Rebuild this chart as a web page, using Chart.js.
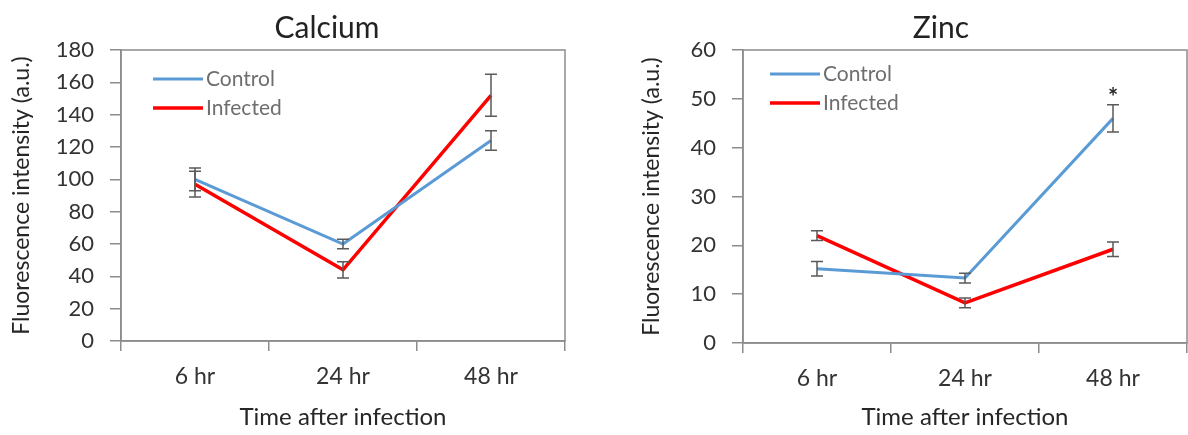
<!DOCTYPE html>
<html>
<head>
<meta charset="utf-8">
<script src="https://cdn.jsdelivr.net/npm/chart.js@4.4.1/dist/chart.umd.min.js"></script>
<style>
  body { margin: 0; background: #fff; }
  .row { display: flex; width: 1188px; height: 435px; }
  canvas { display: block; }
</style>
</head>
<body>
<div class="row">
  <canvas id="calciumChart" width="594" height="435"></canvas>
  <canvas id="zincChart" width="594" height="435"></canvas>
</div>
<script>
// values
const timeLabels = ['6 hr', '24 hr', '48 hr'];

const calciumControl = [100, 60, 124];
const calciumControlErr = [7, 3, 6];
const calciumInfected = [97, 44, 152];
const calciumInfectedErr = [8, 5, 13];

const zincControl = [15.2, 13.3, 46];
const zincControlErr = [1.5, 1, 2.8];
const zincInfected = [22, 8.2, 19.2];
const zincInfectedErr = [1, 1, 1.5];
const zincControlMarks = ['', '', '*'];

const BLUE = '#5b9bd5';
const RED = '#ff0000';
const AXIS = '#8c8c8c';

Chart.defaults.font.family = 'Lato, sans-serif';
Chart.defaults.color = '#333333';

// plot frame (top and right edges of the box)
const frame = {
  id: 'frame',
  beforeDatasetsDraw(chart) {
    const { ctx, chartArea: a } = chart;
    ctx.save();
    ctx.strokeStyle = AXIS;
    ctx.lineWidth = 1.5;
    ctx.strokeRect(a.left, a.top, a.right - a.left, a.bottom - a.top);
    ctx.restore();
  }
};

// error bars and significance marks
const errorBars = {
  id: 'errorBars',
  afterDatasetsDraw(chart) {
    const ctx = chart.ctx;
    const y = chart.scales.y;
    ctx.save();
    chart.data.datasets.forEach((ds, di) => {
      const meta = chart.getDatasetMeta(di);
      meta.data.forEach((pt, i) => {
        const v = ds.data[i], e = ds.errors[i];
        const top = y.getPixelForValue(v + e);
        const bot = y.getPixelForValue(v - e);
        ctx.strokeStyle = '#5a5a5a';
        ctx.lineWidth = 1.5;
        ctx.beginPath();
        ctx.moveTo(pt.x, top); ctx.lineTo(pt.x, bot);
        ctx.moveTo(pt.x - 6, top); ctx.lineTo(pt.x + 6, top);
        ctx.moveTo(pt.x - 6, bot); ctx.lineTo(pt.x + 6, bot);
        ctx.stroke();
        if (ds.marks && ds.marks[i]) {
          ctx.fillStyle = '#262626';
          ctx.font = 'bold 24px Lato, sans-serif';
          ctx.textAlign = 'center';
          ctx.textBaseline = 'alphabetic';
          ctx.fillText(ds.marks[i], pt.x, top + 1);
        }
      });
    });
    ctx.restore();
  }
};

// legend inside the plot, top left
const boxLegend = {
  id: 'boxLegend',
  afterDraw(chart, args, opts) {
    const { ctx, chartArea: a } = chart;
    ctx.save();
    ctx.font = '21px Lato, sans-serif';
    ctx.textBaseline = 'middle';
    ctx.textAlign = 'left';
    chart.data.datasets.forEach((ds, i) => {
      const yy = a.top + opts.y + i * 29;
      ctx.strokeStyle = ds.borderColor;
      ctx.lineWidth = ds.borderWidth;
      ctx.beginPath();
      ctx.moveTo(a.left + opts.x, yy);
      ctx.lineTo(a.left + opts.x + 50, yy);
      ctx.stroke();
      ctx.fillStyle = '#6e6e6e';
      ctx.fillText(ds.label, a.left + opts.x + 53, yy);
    });
    ctx.restore();
  }
};

const heading = {
  id: 'heading',
  afterDraw(chart, args, opts) {
    const { ctx, chartArea: a } = chart;
    ctx.save();
    ctx.font = '30px Lato, sans-serif';
    ctx.fillStyle = '#222222';
    ctx.textAlign = 'center';
    ctx.textBaseline = 'alphabetic';
    ctx.fillText(opts.text, (a.left + a.right) / 2 + opts.dx, 38);
    ctx.restore();
  }
};

function makeChart(id, s) {
  return new Chart(document.getElementById(id), {
    type: 'line',
    data: {
      labels: timeLabels,
      datasets: [
        { label: 'Control', data: s.control, errors: s.controlErr, marks: s.marks,
          borderColor: BLUE, borderWidth: 3, pointRadius: 0, tension: 0 },
        { label: 'Infected', data: s.infected, errors: s.infectedErr,
          borderColor: RED, borderWidth: 3.5, pointRadius: 0, tension: 0 }
      ]
    },
    options: {
      responsive: false,
      animation: false,
      layout: { padding: { top: 50, right: s.padRight, left: 0, bottom: 0 } },
      plugins: {
        legend: { display: false },
        tooltip: { enabled: false },
        boxLegend: s.legend,
        heading: { text: s.title, dx: s.titleDx }
      },
      scales: {
        x: {
          offset: true,
          grid: { offset: true, drawOnChartArea: false, tickLength: 10, color: AXIS, lineWidth: 1.5 },
          border: { color: AXIS, width: 1.5 },
          ticks: { font: { size: 23 }, padding: 12, maxRotation: 0 },
          title: { display: true, text: 'Time after infection', font: { size: 24 }, color: '#262626',
                   padding: { top: 0, bottom: 3 } },
          afterFit(scale) { scale.height = s.xHeight; }
        },
        y: {
          min: 0, max: s.max,
          ticks: { stepSize: s.step, font: { size: 22 }, padding: 16 },
          grid: { drawOnChartArea: false, tickLength: 11, color: AXIS, lineWidth: 1.5 },
          border: { color: AXIS, width: 1.5 },
          title: { display: true, text: 'Fluorescence intensity (a.u.)', font: { size: 23 }, color: '#262626',
                   padding: { top: s.yTitlePad, bottom: 0 } },
          afterFit(scale) { scale.width = s.yWidth; }
        }
      }
    },
    plugins: [frame, errorBars, boxLegend, heading]
  });
}

makeChart('calciumChart', {
  title: 'Calcium', titleDx: -16,
  control: calciumControl, controlErr: calciumControlErr,
  infected: calciumInfected, infectedErr: calciumInfectedErr,
  max: 180, step: 20,
  yWidth: 121, xHeight: 94, padRight: 29, yTitlePad: 8,
  legend: { x: 32, y: 29 }
});

makeChart('zincChart', {
  title: 'Zinc', titleDx: -24,
  control: zincControl, controlErr: zincControlErr, marks: zincControlMarks,
  infected: zincInfected, infectedErr: zincInfectedErr,
  max: 60, step: 10,
  yWidth: 149, xHeight: 92, padRight: 1, yTitlePad: 44,
  legend: { x: 27, y: 24 }
});
</script>
</body>
</html>
